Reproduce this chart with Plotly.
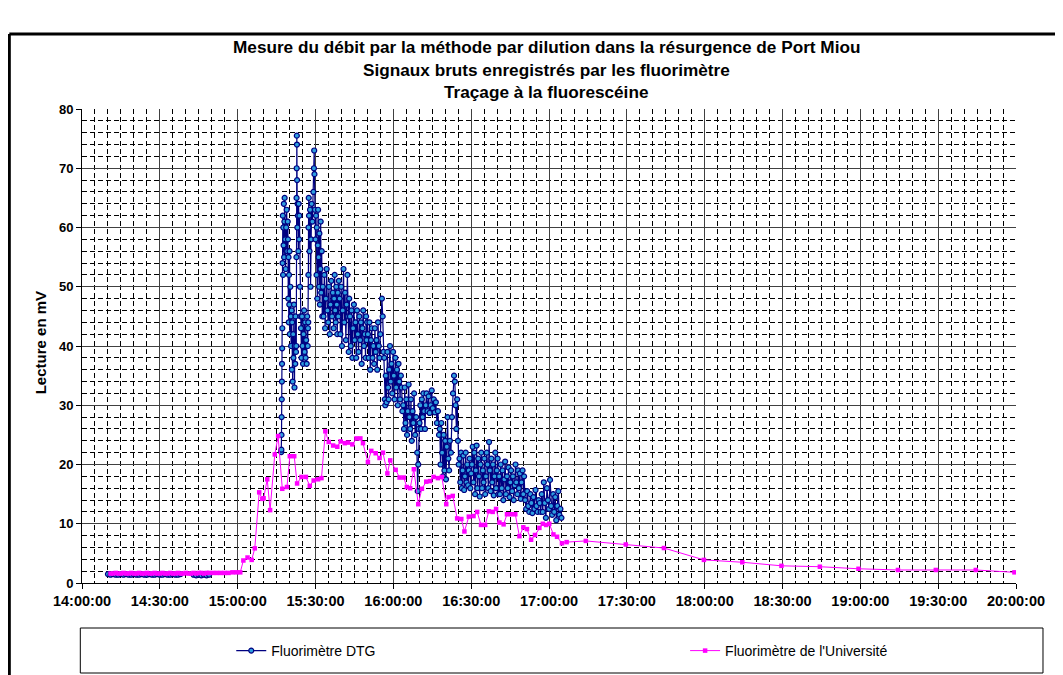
import pandas as pd
import plotly.graph_objects as go

# ---------------- data (minutes after 14:00:00, values in mV) ----------------
dtg_base1_min = [10, 11, 12, 13, 14, 15, 16, 17, 18, 19, 20, 21, 22, 23, 24, 25, 26, 27, 28, 29,
                 30, 31, 32, 33, 34, 35, 36, 37, 38]
dtg_base1_mv = [1.5, 1.4, 1.5, 1.4, 1.4, 1.5, 1.4, 1.5, 1.4, 1.4, 1.5, 1.4, 1.4, 1.5, 1.4, 1.4, 1.5, 1.4, 1.4, 1.5,
                1.4, 1.4, 1.5, 1.4, 1.4, 1.5, 1.4, 1.4, 1.5]
dtg_base2_min = [43, 44, 45, 46, 47, 48, 49]
dtg_base2_mv = [1.4, 1.3, 1.4, 1.3, 1.4, 1.3, 1.4]

dtg_main_min = [
    76.8, 76.85, 76.9, 76.95, 77.0, 77.05, 77.1, 77.15, 77.2,
    77.3, 77.4, 77.5, 77.6, 77.7, 77.8, 77.9, 78.0, 78.1, 78.3, 78.5, 78.7, 78.9, 79.1, 79.3,
    79.4, 79.5, 79.6, 79.7, 79.8, 79.9, 80.0, 80.1, 80.3, 80.5,
    80.6, 80.8, 80.9, 81.0, 81.2, 81.4, 81.5, 81.7, 81.9, 82.0, 82.2, 82.3, 82.5,
    82.6, 82.65, 82.7, 82.75, 82.8, 82.85, 82.9, 83.0, 83.1, 83.2, 83.4, 83.5, 83.7, 83.8, 84.0, 84.2,
    84.4, 84.6, 84.8, 85.0, 85.2, 85.4, 85.6, 85.8, 86.0, 86.2, 86.4, 86.6, 86.8, 87.0, 87.1,
    87.2, 87.25, 87.3, 87.4, 87.5, 87.7, 87.9, 88.1, 88.3, 88.5, 88.8,
    89.2, 89.4, 89.5, 89.6, 89.8, 90.0, 90.2, 90.4, 90.5, 90.7, 90.9, 91.0, 91.2, 91.4, 91.5, 91.7,
    91.9, 92.0, 92.2, 92.4, 92.6,
    92.8, 93.1, 93.4, 93.7, 94.0, 94.3, 94.6, 94.9, 95.2, 95.5, 95.8, 96.1, 96.4, 96.7, 97.0, 97.2,
    97.4, 97.6, 97.8, 98.0, 98.2, 98.4, 98.6, 98.8, 99.0,
    99.3, 99.6, 99.9, 100.2, 100.5, 100.8, 101.1, 101.4, 101.7, 102.0, 102.3, 102.6, 102.8, 103.0,
    103.3, 103.6, 103.9, 104.2, 104.5, 104.8, 105.1, 105.4, 105.7, 106.0, 106.3, 106.6, 106.9, 107.2,
    107.5, 107.8, 108.1, 108.4, 108.7, 109.0, 109.3, 109.5, 109.7, 109.9,
    110.2, 110.5, 110.8, 111.1, 111.4, 111.7, 112.0, 112.3, 112.6, 112.9, 113.2, 113.5, 113.8, 114.1,
    114.4, 114.7, 115.0, 115.6, 115.9, 116.2,
    116.5, 116.7, 116.9, 117.1, 117.4, 117.7, 118.0, 118.2, 118.4,
    118.7, 119.0, 119.3, 119.6, 119.9, 120.2, 120.5, 120.8, 121.1, 121.4, 121.7, 122.0, 122.3, 122.6,
    122.9, 123.2, 123.5,
    123.8, 124.1, 124.4, 124.7, 125.0, 125.3, 125.6, 125.9, 126.2, 126.5, 126.8, 127.1, 127.4, 127.7,
    128.0, 128.4, 128.8,
    129.2, 129.4, 129.6, 129.8,
    130.1, 130.4, 130.7, 131.0, 131.3, 131.6, 131.9, 132.2, 132.5,
    132.8, 133.2, 133.6, 134.0, 134.4, 134.8, 135.2, 135.6, 136.0, 136.4, 136.8, 137.2, 137.6,
    137.9, 138.2, 138.5, 138.8, 139.1, 139.4, 139.7, 140.0, 140.3, 140.6, 140.9, 141.2, 141.5, 141.8,
    142.2, 142.6, 143.0, 143.4, 143.7, 144.0, 144.3, 144.6, 144.9, 145.2,
    145.5, 145.8, 146.1, 146.4, 146.7, 147.0, 147.3, 147.6, 147.9, 148.2, 148.5, 148.8, 149.1, 149.4,
    149.7, 150.0,
    150.3, 150.6, 150.9, 151.2, 151.5, 151.8, 152.1, 152.4, 152.7, 153.0, 153.3, 153.6, 153.9, 154.2,
    154.5, 154.8, 155.1, 155.4, 155.7, 156.0, 156.3, 156.6, 156.9, 157.2, 157.5, 157.8, 158.1, 158.4,
    158.7, 159.0, 159.3, 159.6, 159.9, 160.2, 160.5,
    160.8, 161.1, 161.4, 161.8, 162.1, 162.4, 162.8, 163.1, 163.4, 163.8, 164.1, 164.4, 164.8, 165.1,
    165.4, 165.8, 166.1, 166.4, 166.8, 167.1, 167.4, 167.8, 168.1, 168.4, 168.8, 169.1, 169.4, 169.8,
    170.1, 170.4,
    170.8, 171.2, 171.6, 172.0, 172.4, 172.8, 173.2, 173.6, 174.0, 174.4, 174.8, 175.2, 175.6, 176.0,
    176.4, 176.8,
    177.2, 177.6, 178.0, 178.4, 178.8, 179.2, 179.6, 180.0, 180.4, 180.8, 181.2, 181.6, 182.0, 182.4,
    182.8, 183.2, 183.6, 184.0, 184.4, 184.8,
]
dtg_main_mv = [
    22.1, 22.5, 25, 28, 31, 34, 37, 39.6, 43,
    54, 62, 52, 60, 57, 64, 55, 61, 65, 58, 53, 60, 63, 56, 61,
    58, 48, 55, 44, 52, 47, 56, 42, 50, 45,
    40, 46, 36, 44, 34, 42, 38, 47, 33, 40, 37, 45, 39,
    40, 55, 65, 70, 75.5, 74, 68, 60, 64, 62, 56, 64, 58, 62, 50, 45,
    43, 38, 45, 40, 37, 42, 46, 39, 44, 38, 41, 37, 45, 40, 43,
    44, 52, 60, 65, 62, 56, 63, 50, 58, 64, 61,
    66, 70, 73, 69, 63, 58, 62, 52, 60, 48, 57, 63, 55, 50, 59, 47,
    53, 61, 49, 56, 45,
    50, 45, 52, 43, 48, 53, 46, 44, 50, 42, 47, 51, 45, 49, 43, 48,
    52, 46, 44, 50, 47, 42, 49, 45, 51,
    48, 42, 50, 40, 46, 53, 44, 49, 41, 47, 52, 45, 39, 48,
    45, 40, 46, 38, 43, 47, 41, 44, 38, 46, 42, 39, 45, 41,
    44, 37, 43, 46, 40, 42, 38, 45, 41, 44,
    42, 38, 44, 36, 41, 43, 38, 40, 37, 43, 39, 41, 36, 44,
    40, 38, 42, 48, 45, 39,
    38, 31, 30, 35, 30.5, 39, 33, 31, 36,
    40, 34, 37, 32, 39, 35, 31, 38, 33, 36, 30, 37, 34, 31,
    35, 33, 29,
    30, 26, 33, 27, 31, 25, 29, 33.5, 28, 26, 31, 24, 29, 27,
    32, 25, 28,
    22, 15.5, 20, 26,
    27, 30, 26, 31, 28, 32, 29, 26, 30,
    32, 29, 31.5, 28.7, 30, 32.5, 29.5, 31, 28.8, 30.5, 27, 29, 25,
    26, 20, 27, 22, 18, 25, 19, 24, 17.5, 23, 28, 21, 19, 24,
    22, 28, 32, 35, 34, 30, 26, 31, 24, 20,
    21, 17, 22, 16, 19, 21.5, 15.7, 18, 22, 17, 20, 16.5, 19, 21,
    16, 18.5,
    20, 23, 17, 22, 15, 19, 23.2, 16, 21, 18, 14.6, 20, 22, 16,
    19, 17, 21, 15, 18, 22, 20, 16, 23.8, 19, 15.5, 21, 17, 20,
    14.8, 18, 22, 16, 19, 21, 15,
    18, 15, 20, 16, 19, 14, 17.5, 20.5, 15, 18, 16, 19.5, 14.5, 17,
    19, 15.5, 18, 14, 16.5, 20, 17, 15, 19, 16, 18.5, 14.2, 17, 19,
    15, 18,
    14, 12.5, 15.5, 13, 12, 15, 13.5, 11.8, 14.5, 12.5, 15.7, 13, 12, 14,
    13.5, 12,
    15, 12, 17, 13.5, 11, 16, 14, 12.5, 17.4, 13, 11.5, 15, 12, 14.5,
    10.6, 13, 15.5, 11.5, 12.5, 11,
]

univ_min = [
    11, 12, 13, 14, 15, 16, 17, 18, 19, 20, 21, 22, 23, 24, 25, 26, 27, 28, 29, 30,
    31, 32, 33, 34, 35, 36, 37, 38, 39, 40, 41, 42, 43, 44, 45, 46, 47, 48, 49,
    50.5, 52, 53.5, 55, 56.5, 58, 59.5, 61,
    62.2, 63.8, 65.4, 66.6, 68.3, 69.5, 70, 71.4, 72.5, 74.3, 75.6, 77.2, 79, 80.1, 81.8,
    82.9, 84.6, 86.3, 87.8, 89.3, 91, 92.3, 93.8, 95.1, 96.8, 98.4, 99.7, 101.3, 102.5,
    104.2, 105.8, 107.3, 108.3, 110.2, 111.5, 113.2, 114.7, 116, 117.7, 118.8, 120.9,
    122.4, 124, 125.2, 126.5, 127.9, 129.6, 131, 132.7, 134.2, 135.5, 137.2, 138.7,
    140.4, 141.3, 142.9, 144.6, 146.2, 147.4, 149.1, 150.9, 152.3, 153.8, 155.4, 156.8,
    158.3, 159.6, 160.9, 162.5, 163.8, 165.4, 167, 168.6, 170.1, 171.5, 173.1, 174.6,
    176.3, 177.6, 178.9, 180.1, 181.7, 183.1, 185, 186.8, 194.2, 209.6, 224.3, 239.7,
    254.5, 269.6, 284.4, 299.3, 314.5, 329.1, 344.5, 359.4,
]
univ_mv = [
    1.6, 1.6, 1.7, 1.6, 1.6, 1.7, 1.6, 1.6, 1.7, 1.6, 1.6, 1.7, 1.6, 1.6, 1.7, 1.6, 1.6, 1.7, 1.6, 1.6,
    1.7, 1.6, 1.6, 1.7, 1.6, 1.6, 1.7, 1.6, 1.6, 1.7, 1.6, 1.6, 1.7, 1.6, 1.7, 1.7, 1.6, 1.7, 1.7,
    1.7, 1.7, 1.7, 1.7, 1.7, 1.8, 1.8, 1.8,
    3.8, 4.3, 3.9, 5.85, 15.3, 14.2, 14.3, 17.5, 12.3, 21.7, 24.8, 15.9, 16.2, 21.4, 21.4,
    16.8, 17.9, 17.9, 16.4, 17.3, 17.5, 17.7, 25.6, 23.8, 23.2, 23, 23.9, 23.6, 23.7,
    23.4, 24.4, 24.4, 23.6, 20.4, 22.3, 21.9, 21.1, 22, 18.5, 20.7, 19.1,
    17.8, 17.8, 16.2, 16, 19.2, 13.3, 15.9, 17.1, 17.2, 17.9, 17.7, 17.9,
    13.3, 14.5, 14.7, 10.9, 10.8, 8.7, 11.2, 11.3, 12, 9.8, 9.8, 12.1,
    12, 12.5, 10.2, 9.9, 11.6, 11.6, 11.6, 7.9, 9.4, 9.1, 7.3, 8.1,
    9.3, 10, 9.8, 10, 8.2, 7.8, 6.7, 6.9, 7.1, 6.5, 5.9, 3.9,
    3.5, 2.9, 2.75, 2.4, 2.2, 2.2, 2.2, 1.8,
]

title_lines = [
    "Mesure du débit par la méthode par dilution dans la résurgence de Port Miou",
    "Signaux bruts enregistrés par les fluorimètre",
    "Traçage à la fluorescéine",
]
y_title = "Lecture en mV"
series_names = ["Fluorimètre DTG", "Fluorimètre de l'Université"]

# ---------------- build ----------------
base = pd.Timestamp("2000-01-01 14:00:00")


def to_time(mins):
    return [None if m is None else base + pd.Timedelta(minutes=m) for m in mins]


dtg_x = to_time(dtg_base1_min) + [None] + to_time(dtg_base2_min) + [None] + to_time(dtg_main_min)
dtg_y = dtg_base1_mv + [None] + dtg_base2_mv + [None] + dtg_main_mv

FONT = "Liberation Sans, Arial, sans-serif"

fig = go.Figure()
fig.add_trace(go.Scatter(
    x=dtg_x, y=dtg_y, name=series_names[0], mode="lines+markers",
    connectgaps=False, legend="legend",
    line=dict(color="#000080", width=1.2),
    marker=dict(symbol="circle", size=5, color="#2E9FE0", line=dict(color="#000080", width=1.2)),
))
fig.add_trace(go.Scatter(
    x=to_time(univ_min), y=univ_mv, name=series_names[1], mode="lines+markers",
    legend="legend2",
    line=dict(color="#FF00FF", width=1),
    marker=dict(symbol="square", size=4.5, color="#FF00FF"),
))

# The page body adds an 8px margin; work in page pixels and shift by it.
OFF = 8
W, H = 1063 - OFF, 675 - OFF
PL, PR, PT, PB = 81.7 - OFF, 1016.0 - OFF, 109.0 - OFF, 583.0 - OFF


def px(x):
    return (x - OFF - PL) / (PR - PL)


def py(y):
    return (PB - (y - OFF)) / (PB - PT)


annotations = []
for line, ypix in zip(title_lines, [47, 69.5, 92]):
    annotations.append(dict(
        text="<b>%s</b>" % line, xref="paper", yref="paper", x=px(546), y=py(ypix),
        xanchor="center", yanchor="middle", showarrow=False,
        font=dict(family=FONT, size=17.2, color="black"),
    ))
annotations.append(dict(
    text="<b>%s</b>" % y_title, xref="paper", yref="paper", x=px(40), y=py(343),
    xanchor="center", yanchor="middle", showarrow=False, textangle=-90,
    font=dict(family=FONT, size=15, color="black"),
))

shapes = [
    # legend box
    dict(type="rect", xref="paper", yref="paper", x0=px(80), x1=px(1043), y0=py(673), y1=py(628),
         line=dict(color="black", width=1), fillcolor="rgba(0,0,0,0)", layer="above"),
    # outer frame (top and left)
    dict(type="line", xref="paper", yref="paper", x0=px(9), x1=px(1075), y0=py(34), y1=py(34),
         line=dict(color="black", width=3)),
    dict(type="line", xref="paper", yref="paper", x0=px(9), x1=px(9), y0=py(34), y1=py(690),
         line=dict(color="black", width=3)),
]

legend_common = dict(
    orientation="h", xanchor="left", yanchor="middle",
    bgcolor="rgba(0,0,0,0)", borderwidth=0,
    font=dict(family=FONT, size=14, color="black"),
)

fig.update_layout(
    width=W, height=H,
    margin=dict(l=PL, r=W - PR, t=PT, b=H - PB, pad=0, autoexpand=False),
    paper_bgcolor="white", plot_bgcolor="white",
    font=dict(family=FONT, color="black"),
    showlegend=True,
    legend=dict(x=px(231), y=py(651), **legend_common),
    legend2=dict(x=px(685), y=py(651), **legend_common),
    annotations=annotations,
    shapes=shapes,
)

fig.update_xaxes(
    type="date",
    range=[base, base + pd.Timedelta(hours=6)],
    dtick=30 * 60 * 1000, tick0=base, tickformat="%H:%M:%S",
    showgrid=True, gridcolor="#404040", gridwidth=1.2,
    showline=True, linecolor="black", linewidth=1,
    ticks="outside", ticklen=5, tickcolor="black",
    tickfont=dict(family=FONT, size=14.5, color="black", weight="bold"),
    minor=dict(dtick=5 * 60 * 1000, tick0=base, showgrid=True, gridcolor="black",
               gridwidth=1, griddash="5px,3px", ticks=""),
    zeroline=False,
)
fig.update_yaxes(
    range=[0, 80], dtick=10, tick0=0,
    showgrid=True, gridcolor="#404040", gridwidth=1.2,
    showline=True, linecolor="black", linewidth=1,
    ticks="outside", ticklen=5, tickcolor="black",
    tickfont=dict(family=FONT, size=13, color="black", weight="bold"),
    minor=dict(dtick=2, showgrid=True, gridcolor="black", gridwidth=1, griddash="5px,3px", ticks=""),
    zeroline=False,
)

fig.write_html("out.html")
